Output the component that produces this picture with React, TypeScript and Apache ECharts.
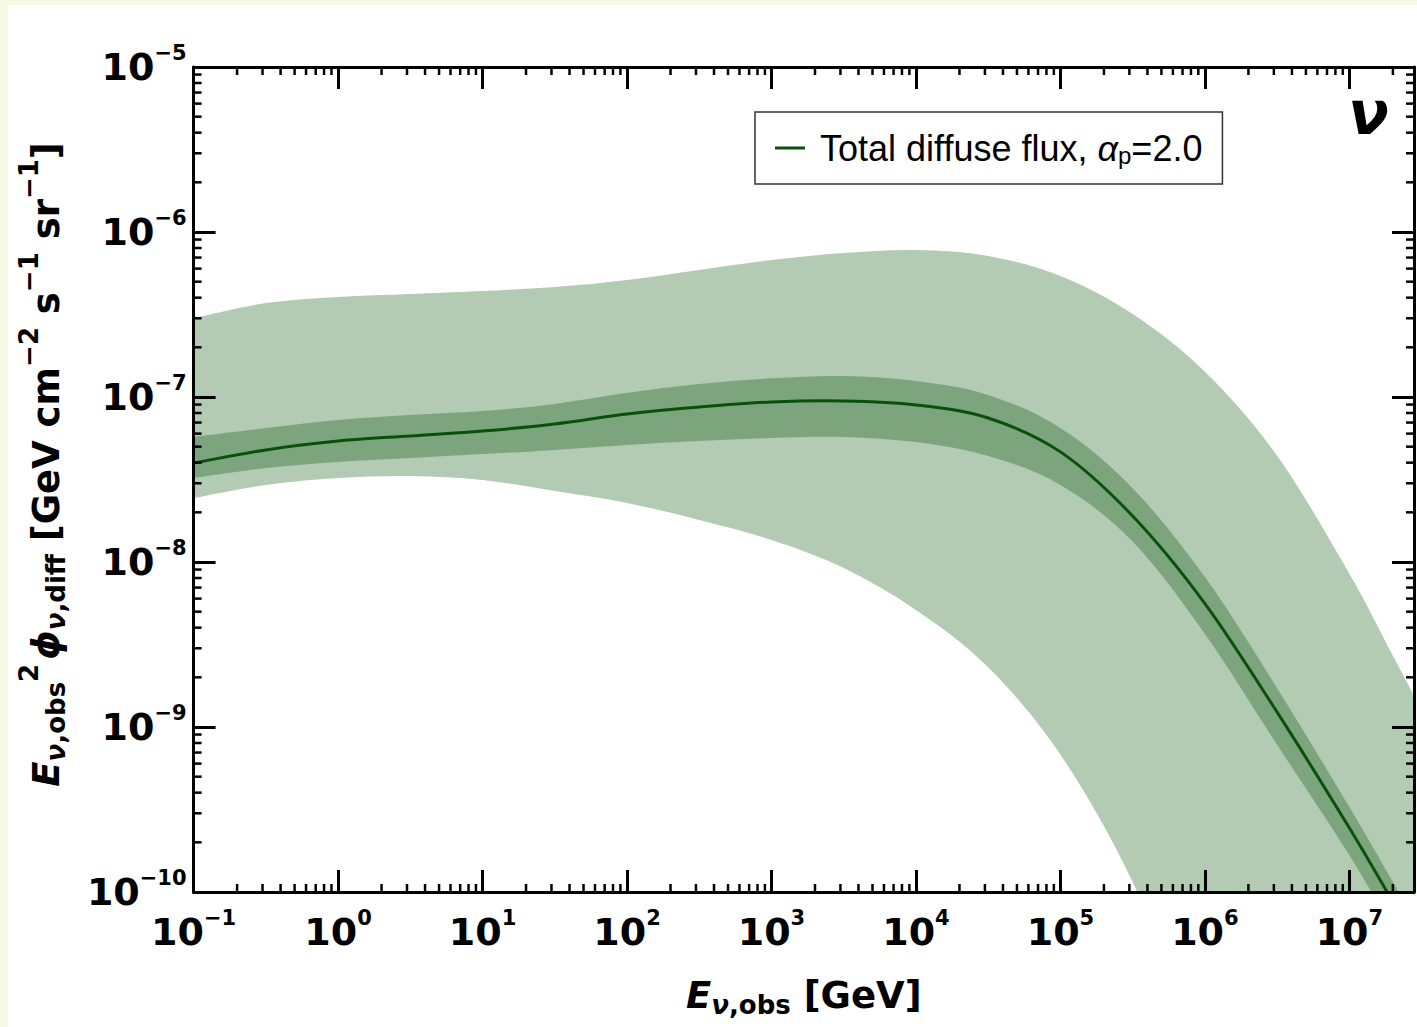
import React, { useEffect, useRef } from "react";
import * as echarts from "echarts";

// ---------- data ----------
const energies = [0.1, 0.316, 1, 3.16, 10, 31.6, 100, 316, 1000, 3162, 1e4, 3.16e4, 1e5, 3.16e5, 1e6, 3.16e6, 1e7, 2e7, 2.8e7];
const totalFlux = [3.98e-8, 4.78e-8, 5.41e-8, 5.81e-8, 6.22e-8, 6.86e-8, 7.88e-8, 8.69e-8, 9.33e-8, 9.46e-8, 8.95e-8, 7.46e-8, 4.65e-8, 1.9e-8, 5.6e-9, 1.23e-9, 2.44e-10, 8.7e-11, 5.2e-11];
const innerUpper = [5.73e-8, 6.48e-8, 7.26e-8, 7.78e-8, 8.22e-8, 9.07e-8, 1.06e-7, 1.2e-7, 1.3e-7, 1.34e-7, 1.25e-7, 1.03e-7, 6.48e-8, 2.8e-8, 8.1e-9, 1.72e-9, 3.27e-10, 1.15e-10, 6.9e-11];
const innerLower = [3.23e-8, 3.71e-8, 4.04e-8, 4.27e-8, 4.51e-8, 4.78e-8, 5.12e-8, 5.41e-8, 5.65e-8, 5.73e-8, 5.33e-8, 4.39e-8, 2.93e-8, 1.33e-8, 3.66e-9, 7.8e-10, 1.67e-10, 5.9e-11, 3.5e-11];
const outerUpper = [3.01e-7, 3.71e-7, 4.04e-7, 4.21e-7, 4.39e-7, 4.64e-7, 5.12e-7, 5.89e-7, 6.76e-7, 7.46e-7, 7.78e-7, 7.16e-7, 5.41e-7, 3.18e-7, 1.42e-7, 4.4e-8, 8.5e-9, 2.7e-9, 1.55e-9];
const outerLower = [2.44e-8, 2.93e-8, 3.23e-8, 3.32e-8, 3.14e-8, 2.69e-8, 2.28e-8, 1.8e-8, 1.36e-8, 9.2e-9, 5.12e-9, 2.3e-9, 6.8e-10, 1.15e-10, 1e-11, 1e-12, 1e-13, 3e-14, 2e-14];

const xTickExps = [-1, 0, 1, 2, 3, 4, 5, 6, 7];
const yTickExps = [-10, -9, -8, -7, -6, -5];
const minorMultipliers = [2, 3, 4, 5, 6, 7, 8, 9];

const X_MIN = 0.1;
const X_MAX = 2.8e7;
const Y_MIN = 1e-10;
const Y_MAX = 1e-5;

const SERIES_NAME = "Total diffuse flux";

// ---------- styling ----------
const PAGE_BG = "#f7f9e4";
const OUTER_COLOR = "#b3cbb3";
const INNER_COLOR = "#7da57d";
const LINE_COLOR = "#0a500a";
const BOLD_FONT = "DejaVu Sans";
const MINOR_LEN = 8;

function crPath(pts: number[][], move: boolean): string {
  let d = (move ? "M" : "L") + pts[0][0] + "," + pts[0][1];
  for (let i = 0; i < pts.length - 1; i++) {
    const p0 = pts[Math.max(i - 1, 0)];
    const p1 = pts[i];
    const p2 = pts[i + 1];
    const p3 = pts[Math.min(i + 2, pts.length - 1)];
    const c1x = p1[0] + (p2[0] - p0[0]) / 6;
    const c1y = p1[1] + (p2[1] - p0[1]) / 6;
    const c2x = p2[0] - (p3[0] - p1[0]) / 6;
    const c2y = p2[1] - (p3[1] - p1[1]) / 6;
    d += " C" + c1x + "," + c1y + " " + c2x + "," + c2y + " " + p2[0] + "," + p2[1];
  }
  return d;
}

function bandSeries(name: string, upper: number[], lower: number[], color: string, z: number) {
  return {
    type: "custom",
    name,
    coordinateSystem: "cartesian2d",
    xAxisIndex: 0,
    yAxisIndex: 0,
    clip: true,
    silent: true,
    z,
    data: [[energies[0], upper[0]]],
    renderItem: (_params: any, api: any) => {
      const up = energies.map((e, i) => api.coord([e, upper[i]]));
      const lo = energies.map((e, i) => api.coord([e, lower[i]])).reverse();
      const d = crPath(up, true) + " " + crPath(lo, false) + " Z";
      return { type: "path", shape: { pathData: d }, style: { fill: color, stroke: null } };
    },
  };
}

function curveSeries(name: string, values: number[], color: string, z: number) {
  return {
    type: "custom",
    name,
    coordinateSystem: "cartesian2d",
    xAxisIndex: 0,
    yAxisIndex: 0,
    clip: true,
    silent: true,
    z,
    itemStyle: { color },
    data: [[energies[0], values[0]]],
    renderItem: (_params: any, api: any) => {
      const pts = energies.map((e, i) => api.coord([e, values[i]]));
      return {
        type: "path",
        shape: { pathData: crPath(pts, true) },
        style: { fill: "none", stroke: color, lineWidth: 3, lineJoin: "round" },
      };
    },
  };
}

function powLabel(exps: number[]) {
  return (v: number) => {
    const l = Math.log10(v);
    const e = Math.round(l);
    if (Math.abs(l - e) > 1e-6 || exps.indexOf(e) < 0) return "";
    const s = e < 0 ? "\u2212" + String(-e) : String(e);
    return "{b|10}{s|" + s + "}";
  };
}

const labelRich = {
  b: { fontFamily: BOLD_FONT, fontWeight: "bold", fontSize: 38, lineHeight: 44, color: "#000" },
  s: { fontFamily: BOLD_FONT, fontWeight: "bold", fontSize: 21, lineHeight: 44, padding: [0, 0, 28, 0], color: "#000" },
};

const titleRich = {
  E: { fontFamily: BOLD_FONT, fontWeight: "bold", fontStyle: "italic", fontSize: 37, lineHeight: 48, color: "#000" },
  P: { fontFamily: BOLD_FONT, fontWeight: "bold", fontStyle: "italic", fontSize: 37, lineHeight: 48, color: "#000", padding: [0, 0, 0, 4] },
  subi: { fontFamily: BOLD_FONT, fontWeight: "bold", fontStyle: "italic", fontSize: 26, lineHeight: 48, color: "#000", padding: [20, 0, 0, 0] },
  sub: { fontFamily: BOLD_FONT, fontWeight: "bold", fontSize: 26, lineHeight: 48, color: "#000", padding: [20, 0, 0, 0] },
  sup: { fontFamily: BOLD_FONT, fontWeight: "bold", fontSize: 26, lineHeight: 48, color: "#000", padding: [0, 0, 34, 0] },
  t: { fontFamily: BOLD_FONT, fontWeight: "bold", fontSize: 37, lineHeight: 48, color: "#000" },
};

const legendRich = {
  t0: { fontFamily: "Liberation Sans", fontSize: 36, lineHeight: 42, color: "#000", padding: [0, 0, 0, 10] },
  t: { fontFamily: "Liberation Sans", fontSize: 36, lineHeight: 42, color: "#000" },
  a: { fontFamily: "Liberation Sans", fontStyle: "italic", fontSize: 36, lineHeight: 42, color: "#000" },
  p: { fontFamily: "Liberation Sans", fontSize: 24, lineHeight: 42, color: "#000", padding: [14, 0, 0, 0] },
};

const axisCommon = {
  type: "log",
  logBase: 10,
  z: 10,
  axisLine: { show: true, lineStyle: { color: "#000", width: 3 } },
  axisTick: { show: true, inside: true, length: 22, lineStyle: { color: "#000", width: 3 } },
  splitLine: { show: false },
  minorTick: { show: false },
  minorSplitLine: { show: false },
};

function minorList(fromExp: number, toExp: number, max: number): number[] {
  const out: number[] = [];
  for (let e = fromExp; e <= toExp; e++) {
    for (const m of minorMultipliers) {
      const v = m * Math.pow(10, e);
      if (v < max) out.push(v);
    }
  }
  return out;
}

export default function App() {
  const ref = useRef<HTMLDivElement>(null);

  useEffect(() => {
    document.body.style.margin = "0";
    document.body.style.background = PAGE_BG;
    if (!ref.current) return;
    const chart = echarts.init(ref.current, null, { renderer: "svg" });

    const xMinor = minorList(xTickExps[0], xTickExps[xTickExps.length - 1], X_MAX);
    const yMinor = minorList(yTickExps[0], yTickExps[yTickExps.length - 1] - 1, Y_MAX);
    const tickStyle = { stroke: "#000", lineWidth: 2.5 };

    const option: any = {
      animation: false,
      backgroundColor: "#ffffff",
      grid: { left: 179, top: 62, right: -6, bottom: 135, containLabel: false },
      legend: {
        data: [{ name: SERIES_NAME, itemStyle: { color: LINE_COLOR } }],
        left: 747,
        top: 107,
        orient: "horizontal",
        icon: "rect",
        itemWidth: 30,
        itemHeight: 3,
        padding: [17, 20, 17, 20],
        borderColor: "#333",
        borderWidth: 1.5,
        borderRadius: 0,
        backgroundColor: "#fff",
        selectedMode: false,
        formatter: () => "{t0|Total diffuse flux, }{a|\u03b1}{p|p}{t|=2.0}",
        textStyle: { rich: legendRich },
      },
      xAxis: [
        {
          ...axisCommon,
          position: "bottom",
          min: X_MIN,
          max: X_MAX,
          splitNumber: 10,
          axisLabel: { formatter: powLabel(xTickExps), margin: 18, rich: labelRich, showMinLabel: true, showMaxLabel: true },
          name: "{E|E}{subi|\u03bd}{sub|,obs}{t| [GeV]}",
          nameLocation: "middle",
          nameGap: 79,
          nameTextStyle: { rich: titleRich },
        },
        {
          ...axisCommon,
          position: "top",
          min: X_MIN,
          max: X_MAX,
          splitNumber: 10,
          axisLabel: { show: false },
        },
      ],
      yAxis: [
        {
          ...axisCommon,
          position: "left",
          min: Y_MIN,
          max: Y_MAX,
          splitNumber: 5,
          axisLabel: { formatter: powLabel(yTickExps), margin: 7, rich: labelRich, showMinLabel: true, showMaxLabel: true },
          name: "{E|E}{subi|\u03bd}{sub|,obs}{sup|2}{P|\u03d5}{subi|\u03bd}{sub|,diff}{t| [GeV cm}{sup|\u22122}{t| s}{sup|\u22121}{t| sr}{sup|\u22121}{t|]}",
          nameLocation: "middle",
          nameRotate: 90,
          nameGap: 117,
          nameTextStyle: { rich: titleRich, padding: [0, 0, 0, 30] },
        },
        {
          ...axisCommon,
          position: "right",
          min: Y_MIN,
          max: Y_MAX,
          splitNumber: 5,
          axisLabel: { show: false },
        },
      ],
      graphic: [
        {
          type: "text",
          left: 1340,
          top: 78,
          z: 20,
          style: {
            text: "\u03bd",
            font: "italic bold 60px 'DejaVu Sans'",
            fill: "#000",
          },
        },
      ],
      series: [
        bandSeries("outer", outerUpper, outerLower, OUTER_COLOR, 1),
        bandSeries("inner", innerUpper, innerLower, INNER_COLOR, 2),
        curveSeries(SERIES_NAME, totalFlux, LINE_COLOR, 3),
        {
          type: "custom",
          name: "xMinor",
          coordinateSystem: "cartesian2d",
          xAxisIndex: 0,
          yAxisIndex: 0,
          clip: false,
          silent: true,
          z: 11,
          data: xMinor.map((v) => [v, Y_MIN]),
          renderItem: (_p: any, api: any) => {
            const v = api.value(0);
            const b = api.coord([v, Y_MIN]);
            const t = api.coord([v, Y_MAX]);
            return {
              type: "group",
              children: [
                { type: "line", shape: { x1: b[0], y1: b[1], x2: b[0], y2: b[1] - MINOR_LEN }, style: tickStyle },
                { type: "line", shape: { x1: t[0], y1: t[1], x2: t[0], y2: t[1] + MINOR_LEN }, style: tickStyle },
              ],
            };
          },
        },
        {
          type: "custom",
          name: "yMinor",
          coordinateSystem: "cartesian2d",
          xAxisIndex: 0,
          yAxisIndex: 0,
          clip: false,
          silent: true,
          z: 11,
          data: yMinor.map((v) => [X_MIN, v]),
          renderItem: (_p: any, api: any) => {
            const v = api.value(1);
            const l = api.coord([X_MIN, v]);
            const r = api.coord([X_MAX, v]);
            return {
              type: "group",
              children: [
                { type: "line", shape: { x1: l[0], y1: l[1], x2: l[0] + MINOR_LEN, y2: l[1] }, style: tickStyle },
                { type: "line", shape: { x1: r[0], y1: r[1], x2: r[0] - MINOR_LEN, y2: r[1] }, style: tickStyle },
              ],
            };
          },
        },
      ],
    };

    chart.setOption(option);
    return () => {
      chart.dispose();
    };
  }, []);

  return (
    <div
      ref={ref}
      style={{ position: "absolute", left: 8, top: 5, width: 1409, height: 1022, background: "#ffffff" }}
    />
  );
}
